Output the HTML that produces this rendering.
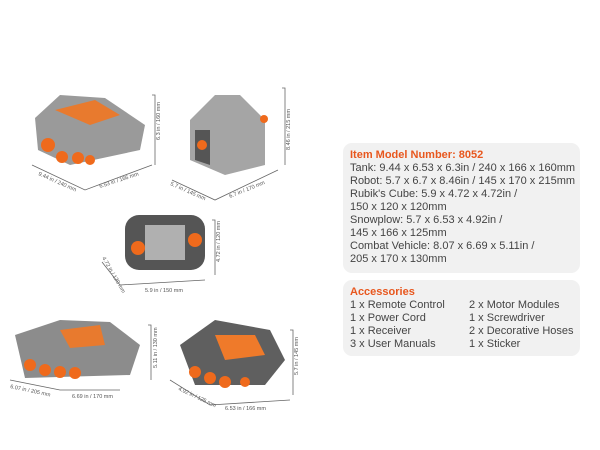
<!DOCTYPE html><html><head><style>
body{margin:0;width:600px;height:450px;background:#fff;overflow:hidden;position:relative;font-family:"Liberation Sans",sans-serif}
.box{position:absolute;left:343px;width:237px;background:#f1f1f1;border-radius:9px;font-size:11px;color:#444;line-height:13px;padding:6px 0 0 7px;box-sizing:border-box}
.h{color:#e8571e;font-weight:bold}
.c{position:absolute;left:126px}
</style></head><body>
<svg width="340" height="450" style="position:absolute;left:0;top:0" font-family="Liberation Sans" font-size="5.5" fill="#555">
<g stroke="#666" stroke-width="0.8" fill="none">
<path d="M32 165 L85 190 L152 165"/><path d="M152 95 L155 95 L155 165"/>
<path d="M172 180 L215 200 L278 170"/><path d="M282 88 L285 88 L285 165"/>
<path d="M102 262 L120 285 L205 280"/><path d="M212 220 L215 220 L215 275"/>
<path d="M10 380 L60 390 L120 390"/><path d="M148 325 L151 325 L151 380"/>
<path d="M170 380 L210 405 L290 400"/><path d="M290 330 L293 330 L293 395"/>
</g>
<!-- tank -->
<path d="M35 118 L60 95 L105 98 L145 125 L140 150 L70 165 L38 150Z" fill="#9a9a9a"/>
<path d="M55 110 L95 100 L120 115 L90 125Z" fill="#e87a2e"/>
<g fill="#ef6a1c"><circle cx="48" cy="145" r="7"/><circle cx="62" cy="157" r="6"/><circle cx="78" cy="158" r="6"/><circle cx="90" cy="160" r="5"/></g>
<!-- robot -->
<path d="M190 120 L215 95 L240 95 L265 120 L265 165 L225 175 L190 160Z" fill="#a5a5a5"/>
<path d="M195 130 L210 130 L210 165 L195 160Z" fill="#555"/><circle cx="202" cy="145" r="5" fill="#ef6a1c"/><circle cx="264" cy="119" r="4" fill="#ef6a1c"/>
<!-- cube -->
<rect x="125" y="215" width="80" height="55" rx="14" fill="#555"/>
<rect x="145" y="225" width="40" height="35" fill="#b0b0b0"/>
<g fill="#ef6a1c"><circle cx="138" cy="248" r="7"/><circle cx="195" cy="240" r="7"/></g>
<!-- snowplow -->
<path d="M15 335 L60 320 L110 322 L140 345 L130 375 L25 378Z" fill="#8c8c8c"/>
<path d="M60 330 L100 325 L105 345 L70 348Z" fill="#e87a2e"/>
<g fill="#ef6a1c"><circle cx="30" cy="365" r="6"/><circle cx="45" cy="370" r="6"/><circle cx="60" cy="372" r="6"/><circle cx="75" cy="373" r="6"/></g>
<!-- combat -->
<path d="M180 345 L215 320 L270 330 L285 360 L265 385 L195 385Z" fill="#5f5f5f"/>
<path d="M215 335 L255 335 L265 355 L225 360Z" fill="#ef7a2a"/>
<g fill="#ef6a1c"><circle cx="195" cy="372" r="6"/><circle cx="210" cy="378" r="6"/><circle cx="225" cy="382" r="6"/><circle cx="245" cy="382" r="5"/></g>
<text x="38" y="175" transform="rotate(24 38 175)">9.44 in / 240 mm</text>
<text x="100" y="188" transform="rotate(-18 100 188)">6.53 in / 166 mm</text>
<text x="160" y="140" transform="rotate(-90 160 140)">6.3 in / 160 mm</text>
<text x="170" y="185" transform="rotate(24 170 185)">5.7 in / 145 mm</text>
<text x="230" y="198" transform="rotate(-22 230 198)">6.7 in / 170 mm</text>
<text x="290" y="150" transform="rotate(-90 290 150)">8.46 in / 215 mm</text>
<text x="102" y="258" transform="rotate(60 102 258)">4.72 in / 120 mm</text>
<text x="145" y="292">5.9 in / 150 mm</text>
<text x="220" y="262" transform="rotate(-90 220 262)">4.72 in / 120 mm</text>
<text x="10" y="388" transform="rotate(12 10 388)">6.07 in / 205 mm</text>
<text x="72" y="398">6.69 in / 170 mm</text>
<text x="157" y="368" transform="rotate(-90 157 368)">5.11 in / 130 mm</text>
<text x="178" y="390" transform="rotate(25 178 390)">4.92 in / 125 mm</text>
<text x="225" y="410">6.53 in / 166 mm</text>
<text x="298" y="375" transform="rotate(-90 298 375)">5.7 in / 145 mm</text>
</svg>
<div class="box" style="top:143px;height:130px">
<div class="h">Item Model Number: 8052</div>
<div>Tank: 9.44 x 6.53 x 6.3in / 240 x 166 x 160mm</div>
<div>Robot: 5.7 x 6.7 x 8.46in / 145 x 170 x 215mm</div>
<div>Rubik's Cube: 5.9 x 4.72 x 4.72in /</div>
<div>150 x 120 x 120mm</div>
<div>Snowplow: 5.7 x 6.53 x 4.92in /</div>
<div>145 x 166 x 125mm</div>
<div>Combat Vehicle: 8.07 x 6.69 x 5.11in /</div>
<div>205 x 170 x 130mm</div>
</div>
<div class="box" style="top:280px;height:76px">
<div class="h">Accessories</div>
<div>1 x Remote Control<span class="c">2 x Motor Modules</span></div>
<div>1 x Power Cord<span class="c">1 x Screwdriver</span></div>
<div>1 x Receiver<span class="c">2 x Decorative Hoses</span></div>
<div>3 x User Manuals<span class="c">1 x Sticker</span></div>
</div>
</body></html>
